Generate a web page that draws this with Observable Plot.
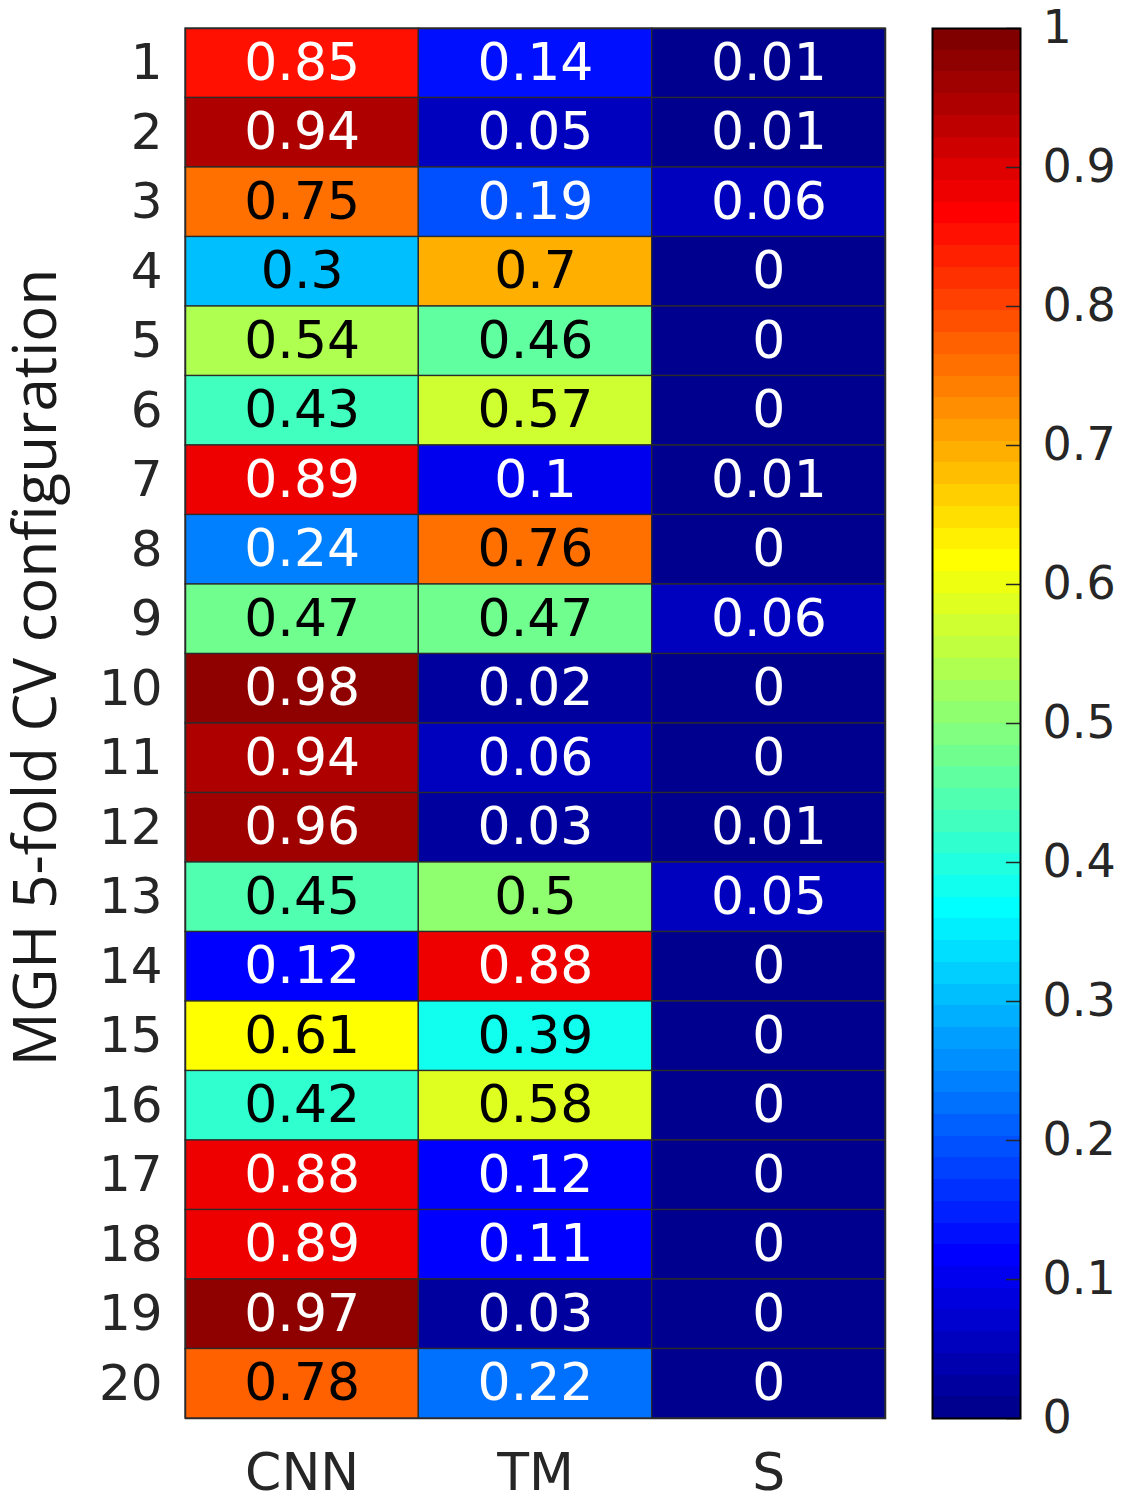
<!DOCTYPE html>
<html><head><meta charset="utf-8">
<script src="https://cdn.jsdelivr.net/npm/d3@7"></script>
<script src="https://cdn.jsdelivr.net/npm/@observablehq/plot@0.6"></script>
<style>
body{margin:0;background:#fff}
#wrap{position:relative;width:1124px;height:1500px;background:#fff}
#wrap svg{position:absolute;top:0}
</style>
</head><body><div id="wrap"></div>
<script>
const rowLabels = ["1","2","3","4","5","6","7","8","9","10","11","12","13","14","15","16","17","18","19","20"];
const columns = ["CNN","TM","S"];
const cnn = [0.85,0.94,0.75,0.3,0.54,0.43,0.89,0.24,0.47,0.98,0.94,0.96,0.45,0.12,0.61,0.42,0.88,0.89,0.97,0.78];
const tm  = [0.14,0.05,0.19,0.7,0.46,0.57,0.1,0.76,0.47,0.02,0.06,0.03,0.5,0.88,0.39,0.58,0.12,0.11,0.03,0.22];
const s   = [0.01,0.01,0.06,0,0,0,0.01,0,0.06,0,0,0.01,0.05,0,0,0,0,0,0,0];
const colorbarTicks = [0,0.1,0.2,0.3,0.4,0.5,0.6,0.7,0.8,0.9,1];
const yLabel = "MGH 5-fold CV configuration";

// MATLAB jet(m) colormap
function jetMap(m){
  const n = Math.ceil(m/4);
  const u = [];
  for(let i=1;i<=n;i++) u.push(i/n);
  for(let i=0;i<n-1;i++) u.push(1);
  for(let i=n;i>=1;i--) u.push(i/n);
  const off = Math.ceil(n/2) - (m%4===1?1:0);
  const J = Array.from({length:m},()=>[0,0,0]);
  for(let j=0;j<u.length;j++){
    const g = off+j+1, r = g+n, b = g-n;
    if(r>=1 && r<=m) J[r-1][0] = u[j];
    if(g>=1 && g<=m) J[g-1][1] = u[j];
    if(b>=1 && b<=m) J[b-1][2] = u[j];
  }
  return J.map(c=>`rgb(${Math.round(c[0]*255)},${Math.round(c[1]*255)},${Math.round(c[2]*255)})`);
}
const NLEV = 64;
const jet = jetMap(NLEV);
const jetInterp = t => jet[Math.max(0, Math.min(NLEV-1, Math.floor(t*NLEV)))];
const colorScale = {type:"linear", domain:[0,1], interpolate: jetInterp, clamp:true};

const data = [];
rowLabels.forEach((r,i)=>{
  data.push({row:r,col:"CNN",v:cnn[i]},{row:r,col:"TM",v:tm[i]},{row:r,col:"S",v:s[i]});
});

const main = Plot.plot({
  width:1124, height:1500,
  marginLeft:185, marginRight:239, marginTop:28, marginBottom:82,
  style:{fontFamily:"DejaVu Sans", background:"transparent", color:"#262626", overflow:"visible"},
  x:{domain:columns, padding:0, round:false, label:null},
  y:{domain:rowLabels, padding:0, round:false, label:null},
  color: colorScale,
  marks:[
    Plot.cell(data,{x:"col", y:"row", fill:"v", stroke:"#2b2b2b", strokeWidth:1.3}),
    Plot.text(data,{x:"col", y:"row", text:d=>String(d.v),
      fill:d=>(d.v<0.27||d.v>0.8)?"white":"black", fontSize:52}),
    Plot.axisX({tickSize:0, tickPadding:35, fontSize:52, label:null}),
    Plot.axisY({tickSize:0, tickPadding:23, fontSize:50, label:null}),
    Plot.text([yLabel],{text:d=>d, frameAnchor:"left", textAnchor:"middle", rotate:-90, dx:-149, dy:-56,
      fontSize:60, fontFamily:"Open Sans", fill:"#1a1a1a"}),
    Plot.frame({stroke:"#2b2b2b", strokeWidth:1.5})
  ]
});

const levels = d3.range(NLEV);
const cb = Plot.plot({
  width:192, height:1500,
  marginLeft:0, marginRight:104, marginTop:28, marginBottom:82,
  style:{fontFamily:"DejaVu Sans", background:"transparent", color:"#262626", overflow:"visible"},
  x:{domain:[0,1], axis:null},
  y:{domain:[0,1], axis:null},
  color: colorScale,
  marks:[
    Plot.rect(levels,{x1:0, x2:1, y1:k=>k/NLEV, y2:k=>(k+1)/NLEV, fill:k=>(k+0.5)/NLEV, shapeRendering:"crispEdges"}),
    Plot.ruleY(colorbarTicks,{x1:0.84, x2:1, stroke:"#262626", strokeWidth:1.5}),
    Plot.axisY(colorbarTicks,{anchor:"right", tickSize:0, tickPadding:22, fontSize:46,
      tickFormat:d=>d===0?"0":d===1?"1":d.toFixed(1), label:null}),
    Plot.frame({stroke:"black", strokeWidth:2})
  ]
});
cb.style.left = "932px";
const wrap = document.getElementById("wrap");
main.style.left = "0px";
wrap.appendChild(main);
wrap.appendChild(cb);
</script>
</body></html>
